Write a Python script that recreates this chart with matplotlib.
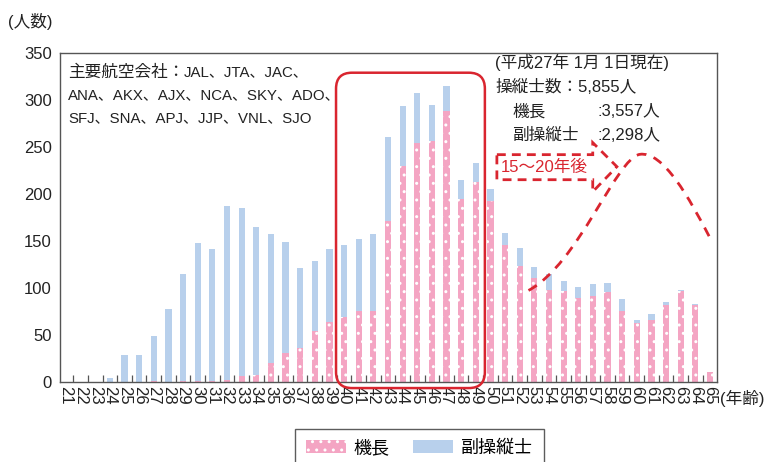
import numpy as np
import matplotlib
matplotlib.use('Agg')
import matplotlib.pyplot as plt
from matplotlib.patches import Patch, Polygon, FancyBboxPatch, PathPatch
from matplotlib.path import Path

# Latin glyphs from Liberation Sans, CJK glyphs from Noto
plt.rcParams['font.family'] = ['Liberation Sans', 'Noto Sans CJK JP', 'DejaVu Sans']
plt.rcParams['hatch.linewidth'] = 1.0

# Pilots by age (2015-01-01)
ages = list(range(21, 66))
captain = [0, 0, 0, 0, 0, 0, 1, 0, 1, 1,
           1, 2, 6, 7, 20, 30, 36, 54, 63, 69,
           75, 75, 171, 230, 254, 256, 288, 194, 213, 192,
           145, 123, 110, 98, 96, 89, 91, 95, 75, 62,
           66, 81, 96, 81, 10]
first_officer = [0, 0, 0, 4, 28, 28, 47, 77, 114, 147,
                 140, 185, 179, 158, 137, 119, 85, 74, 78, 76,
                 77, 82, 89, 64, 53, 39, 27, 21, 20, 13,
                 13, 19, 12, 17, 11, 12, 13, 10, 13, 4,
                 6, 4, 1, 2, 0]
legend_labels = ['機長', '副操縦士']
companies_head = '主要航空会社：'
companies = ['JAL、JTA、JAC、',
             'ANA、AKX、AJX、NCA、SKY、ADO、',
             'SFJ、SNA、APJ、JJP、VNL、SJO']

PINK = '#f4a5c3'
BLUE = '#b8d0ec'
RED = '#d9252f'
GRAY = '#555555'
INK = '#222222'

fig = plt.figure(figsize=(7.7, 4.62), dpi=100)
ax = fig.add_axes([60 / 770, 1 - 381.5 / 462, 657 / 770, 328.5 / 462])

x = np.array(ages)
ax.bar(x, captain, width=0.42, color=PINK, edgecolor='white', linewidth=0, hatch='..')
ax.bar(x, first_officer, width=0.42, bottom=captain, color=BLUE, linewidth=0)

ax.set_xlim(20.59, 65.48)
ax.set_ylim(0, 350)
ax.set_yticks(range(0, 351, 50))
ax.set_xticks(x)
ax.set_xticklabels([str(a) for a in ages], rotation=-90, fontsize=12)
ax.set_xticks(np.arange(21.5, 65, 1), minor=True)
ax.tick_params(axis='x', which='major', length=0, pad=3, colors=INK)
ax.tick_params(axis='x', which='minor', direction='in', length=5, width=0.9, color=GRAY)
ax.tick_params(axis='y', length=0, labelsize=12, pad=6, colors=INK)
for s in ax.spines.values():
    s.set_color(GRAY)
    s.set_linewidth(1.0)

# airline list
head = ax.text(0.012, 0.942, companies_head, transform=ax.transAxes,
               fontsize=12, va='center', ha='left', color=INK)
ax.annotate(companies[0], xy=(1, 0.5), xycoords=head, fontsize=10.8,
            va='center', ha='left', color=INK)
for i, line in enumerate(companies[1:], start=1):
    ax.text(0.012, 0.942 - i * 0.07, line, transform=ax.transAxes,
            fontsize=10.8, va='center', ha='left', color=INK)

# totals block
tx = dict(transform=ax.transAxes, fontsize=12, va='center', color=INK)
ax.text(0.662, 0.972, '(平成27年 1月 1日現在)', **tx)
ax.text(0.662, 0.895, '操縦士数：5,855人', **tx)
ax.text(0.688, 0.822, '機長', **tx)
ax.text(0.818, 0.822, ':3,557人', **tx)
ax.text(0.688, 0.749, '副操縦士', **tx)
ax.text(0.818, 0.749, ':2,298人', **tx)

# highlight box around ages 40-49
fig.canvas.draw()
(x0, y0) = ax.transData.transform((39.45, -7))
(x1, y1) = ax.transData.transform((49.62, 329))
box = FancyBboxPatch((x0, y0), x1 - x0, y1 - y0, boxstyle='round,pad=0,rounding_size=16',
                     transform=None, fill=False, edgecolor=RED, linewidth=1.8, clip_on=False)
fig.patches.append(box)

# projected shift curve
verts = [(52.6, 97), (56.0, 125), (58.6, 238), (60.2, 242),
         (61.8, 246), (63.6, 195), (65.0, 153)]
codes = [Path.MOVETO, Path.CURVE4, Path.CURVE4, Path.CURVE4,
         Path.CURVE4, Path.CURVE4, Path.CURVE4]
curve = PathPatch(Path(verts, codes), fill=False, edgecolor=RED, linewidth=2.0,
                  linestyle=(0, (3.5, 2.8)), clip_on=False)
ax.add_patch(curve)

# dashed arrow label
arrow_pts = [(50.44, 241.7), (56.99, 241.7), (56.99, 254.5), (58.64, 228.9),
             (56.99, 202.2), (56.99, 215.0), (50.44, 215.0)]
ax.add_patch(Polygon(arrow_pts, closed=True, fill=False, edgecolor=RED, linewidth=2.0,
                     linestyle=(0, (3.2, 2.2)), joinstyle='miter'))
ax.text(53.7, 228.6, '15～20年後', fontsize=12, color=RED, ha='center', va='center')

fig.text(8 / 770, 1 - 22 / 462, '(人数)', fontsize=12, va='center', color=INK)
fig.text(720 / 770, 1 - 398 / 462, '(年齢)', fontsize=12, va='center', color=INK)

handles = [Patch(facecolor=PINK, edgecolor='white', linewidth=0, hatch='..'),
           Patch(facecolor=BLUE, linewidth=0)]
leg = fig.legend(handles, legend_labels, loc='upper left',
                 bbox_to_anchor=(295 / 770, 1 - 429 / 462), ncol=2, fontsize=13,
                 frameon=True, fancybox=False, handlelength=2.2, handleheight=0.7,
                 handletextpad=0.45, columnspacing=1.3, borderpad=0.6, borderaxespad=0)
leg.get_frame().set_edgecolor('#333333')
leg.get_frame().set_linewidth(1.0)

fig.savefig('out.png', dpi=100)
